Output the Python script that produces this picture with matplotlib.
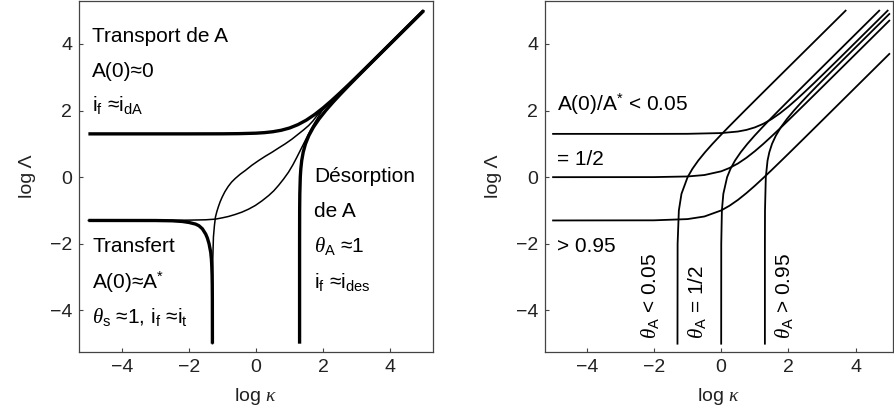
import matplotlib
matplotlib.use("Agg")
import matplotlib.pyplot as plt

plt.rcParams['font.family'] = ['Liberation Sans', 'DejaVu Sans']
plt.rcParams['mathtext.fontset'] = 'custom'
plt.rcParams['mathtext.rm'] = 'Liberation Sans'
plt.rcParams['mathtext.sf'] = 'Liberation Sans'
plt.rcParams['mathtext.it'] = 'Liberation Serif:italic'
plt.rcParams['mathtext.bf'] = 'Liberation Sans:bold'

# ---- left panel: zone boundaries ----
transport_x = [-5, -2, -1, -0.5, 0, 0.25, 0.5, 0.75, 1, 1.25, 1.5, 1.75, 2, 2.25, 2.5, 2.75, 3, 3.5, 4, 5]
transport_y = [1.30, 1.30, 1.302, 1.307, 1.321, 1.337, 1.364, 1.408, 1.476, 1.577, 1.712, 1.882, 2.079,
               2.296, 2.527, 2.765, 3.009, 3.503, 4.001, 5.0]

desorp_x = [1.30, 1.30, 1.302, 1.307, 1.321, 1.337, 1.364, 1.408, 1.476, 1.577, 1.712, 1.882, 2.079,
            2.296, 2.527, 2.765, 3.009, 3.503, 4.001, 5.0]
desorp_y = [-5, -2, -1, -0.5, 0, 0.25, 0.5, 0.75, 1, 1.25, 1.5, 1.75, 2, 2.25, 2.5, 2.75, 3, 3.5, 4, 5]

transfert_x = [-5, -3, -2.5, -2.2, -2.0, -1.8, -1.7, -1.6, -1.5, -1.45, -1.4, -1.35, -1.33, -1.32,
               -1.31, -1.305, -1.302, -1.3]
transfert_y = [-1.3, -1.302, -1.31, -1.33, -1.36, -1.41, -1.46, -1.55, -1.71, -1.83, -2.0,
               -2.263, -2.47, -2.65, -2.94, -3.24, -3.64, -5]

thin1_x = [-1.30, -1.29, -1.27, -1.24, -1.21, -1.17, -1.12, -1.07, -1.01, -0.93, -0.83, -0.73, -0.62,
           -0.47, -0.32, -0.12, 0.08, 0.28, 0.48, 0.68, 0.87, 1.07, 1.27, 1.42, 1.57, 1.70, 1.82, 1.95,
           2.1, 2.35, 2.6, 3.0, 4.0, 5.0]
thin1_y = [-5, -2.5, -1.8, -1.45, -1.2, -1.04, -0.88, -0.74, -0.6, -0.44, -0.28, -0.15, -0.04,
           0.09, 0.20, 0.36, 0.50, 0.63, 0.75, 0.88, 1.0, 1.14, 1.30, 1.42, 1.55, 1.69, 1.85, 1.99,
           2.13, 2.37, 2.61, 3.0, 4.0, 5.0]

thin2_x = [-5, -3, -2, -1.5, -1.21, -1.0, -0.82, -0.62, -0.42, -0.22, -0.02, 0.18, 0.38, 0.53, 0.67,
           0.82, 0.97, 1.10, 1.22, 1.32, 1.42, 1.52, 1.62, 1.72, 1.82, 1.92, 2.02, 2.2, 2.5, 3.0, 4.0, 5.0]
thin2_y = [-1.3, -1.3, -1.29, -1.28, -1.26, -1.22, -1.18, -1.12, -1.05, -0.96, -0.85, -0.71, -0.55,
           -0.41, -0.25, -0.06, 0.15, 0.37, 0.60, 0.80, 1.0, 1.20, 1.40, 1.58, 1.75, 1.92, 2.07, 2.24,
           2.52, 3.01, 4.0, 5.0]

# ---- right panel: iso-concentration and iso-coverage curves ----
a005_x = [-5, -2, -1, 0, 0.5, 0.75, 1, 1.25, 1.5, 1.75, 2, 2.25, 2.5, 2.75, 3, 3.5, 4, 4.95]
a005_y = [1.30, 1.30, 1.302, 1.324, 1.371, 1.419, 1.494, 1.601, 1.744, 1.919, 2.121, 2.341, 2.574,
          2.813, 3.058, 3.552, 4.051, 5.0]

ahalf_x = [-5, -2, -1, -0.5, 0, 0.25, 0.5, 0.75, 1, 1.25, 1.5, 1.75, 2, 2.5, 3, 4, 5]
ahalf_y = [0.0, 0.002, 0.021, 0.064, 0.176, 0.277, 0.412, 0.582, 0.779, 0.996, 1.227, 1.465, 1.709,
           2.203, 2.701, 3.700, 4.700]

a095_x = [-5, -2, -1, -0.5, 0, 0.25, 0.5, 0.75, 1, 1.25, 1.5, 1.75, 2, 2.5, 3, 4, 5]
a095_y = [-1.3, -1.296, -1.259, -1.181, -0.999, -0.856, -0.681, -0.479, -0.259, -0.026, 0.213, 0.458,
          0.704, 1.201, 1.700, 2.7, 3.7]

th005_x = [-1.3, -1.296, -1.259, -1.181, -0.999, -0.856, -0.681, -0.479, -0.259, -0.026, 0.213, 0.458,
           0.704, 1.201, 1.700, 2.7, 3.7]
th005_y = [-5, -2, -1, -0.5, 0, 0.25, 0.5, 0.75, 1, 1.25, 1.5, 1.75, 2, 2.5, 3, 4, 5]

thhalf_x = [0.0, 0.002, 0.021, 0.064, 0.176, 0.277, 0.412, 0.582, 0.779, 0.996, 1.227, 1.465, 1.709,
            2.203, 2.701, 3.700, 4.700]
thhalf_y = [-5, -2, -1, -0.5, 0, 0.25, 0.5, 0.75, 1, 1.25, 1.5, 1.75, 2, 2.5, 3, 4, 5]

th095_x = [1.300, 1.300, 1.303, 1.327, 1.379, 1.432, 1.512, 1.627, 1.776, 1.958, 2.164, 2.387, 2.621,
           2.862, 3.107, 3.602, 4.101, 5.0]
th095_y = [-5, -2, -1, 0, 0.5, 0.75, 1, 1.25, 1.5, 1.75, 2, 2.25, 2.5, 2.75, 3, 3.5, 4, 4.9]

ticks = [-4, -2, 0, 2, 4]
tick_labels = ['\u22124', '\u22122', '0', '2', '4']

fig = plt.figure(figsize=(8.94, 4.15), dpi=100)
ax1 = fig.add_axes([79 / 894, 63 / 415, 354 / 894, 351 / 415])
ax2 = fig.add_axes([545 / 894, 63 / 415, 348 / 894, 351 / 415])

thick = dict(color='black', lw=2.4, solid_capstyle='butt', solid_joinstyle='round')
thin = dict(color='black', lw=1.1, solid_joinstyle='round')
mid = dict(color='black', lw=1.3, solid_joinstyle='round')

ax1.plot(thin1_x, thin1_y, **thin)
ax1.plot(thin2_x, thin2_y, **thin)
ax1.plot(transport_x, transport_y, **thick)
ax1.plot(desorp_x, desorp_y, **thick)
ax1.plot(transfert_x, transfert_y, **thick)

for xs, ys in [(a005_x, a005_y), (ahalf_x, ahalf_y), (a095_x, a095_y),
               (th005_x, th005_y), (thhalf_x, thhalf_y), (th095_x, th095_y)]:
    ax2.plot(xs, ys, **mid)

for ax, xl in [(ax1, (-5.28, 5.28)), (ax2, (-5.24, 5.11))]:
    ax.set_xlim(*xl)
    ax.set_ylim(-5.25, 5.29)
    ax.set_xticks(ticks)
    ax.set_yticks(ticks)
    ax.set_xticklabels(tick_labels)
    ax.set_yticklabels(tick_labels)
    ax.tick_params(direction='in', length=3, width=0.8, colors='#444444', labelcolor='#222222',
                   labelsize=14, pad=5)
    for s in ax.spines.values():
        s.set_color('#444444')
        s.set_linewidth(0.9)
    ax.set_xlabel(r'log $\kappa$', fontsize=14, color='#222222', labelpad=7)
    ax.set_ylabel('log \u039b', fontsize=14, color='#222222', labelpad=10)

fs = 15
ax1.text(-4.88, 4.06, 'Transport de A', fontsize=fs)
ax1.text(-4.88, 3.01, 'A(0)\u22480', fontsize=fs)
ax1.text(-4.88, 1.99, 'i$_\\mathrm{f}$ \u2248i$_\\mathrm{dA}$', fontsize=fs)
ax1.text(-4.88, -2.25, 'Transfert', fontsize=fs)
ax1.text(-4.88, -3.34, 'A(0)\u2248A$^{*}$', fontsize=fs)
ax1.text(-4.88, -4.39, '$\\theta_\\mathrm{s}$ \u22481, i$_\\mathrm{f}$ \u2248i$_\\mathrm{t}$', fontsize=fs)
ax1.text(1.74, -0.15, 'D\u00e9sorption', fontsize=fs)
ax1.text(1.74, -1.20, 'de A', fontsize=fs)
ax1.text(1.74, -2.25, '$\\theta_\\mathrm{A}$ \u22481', fontsize=fs)
ax1.text(1.74, -3.34, 'i$_\\mathrm{f}$ \u2248i$_\\mathrm{des}$', fontsize=fs)

ax2.text(-4.89, 1.98, 'A(0)/A$^{*}$ < 0.05', fontsize=fs)
ax2.text(-4.89, 0.38, '= 1/2', fontsize=fs)
ax2.text(-4.89, -2.25, '> 0.95', fontsize=fs)
ax2.text(-2.12, -4.85, '$\\theta_\\mathrm{A}$ < 0.05', fontsize=fs, rotation=90, ha='center', va='bottom')
ax2.text(-0.72, -4.85, '$\\theta_\\mathrm{A}$ = 1/2', fontsize=fs, rotation=90, ha='center', va='bottom')
ax2.text(1.88, -4.85, '$\\theta_\\mathrm{A}$ > 0.95', fontsize=fs, rotation=90, ha='center', va='bottom')

fig.savefig('out.png', dpi=100)
